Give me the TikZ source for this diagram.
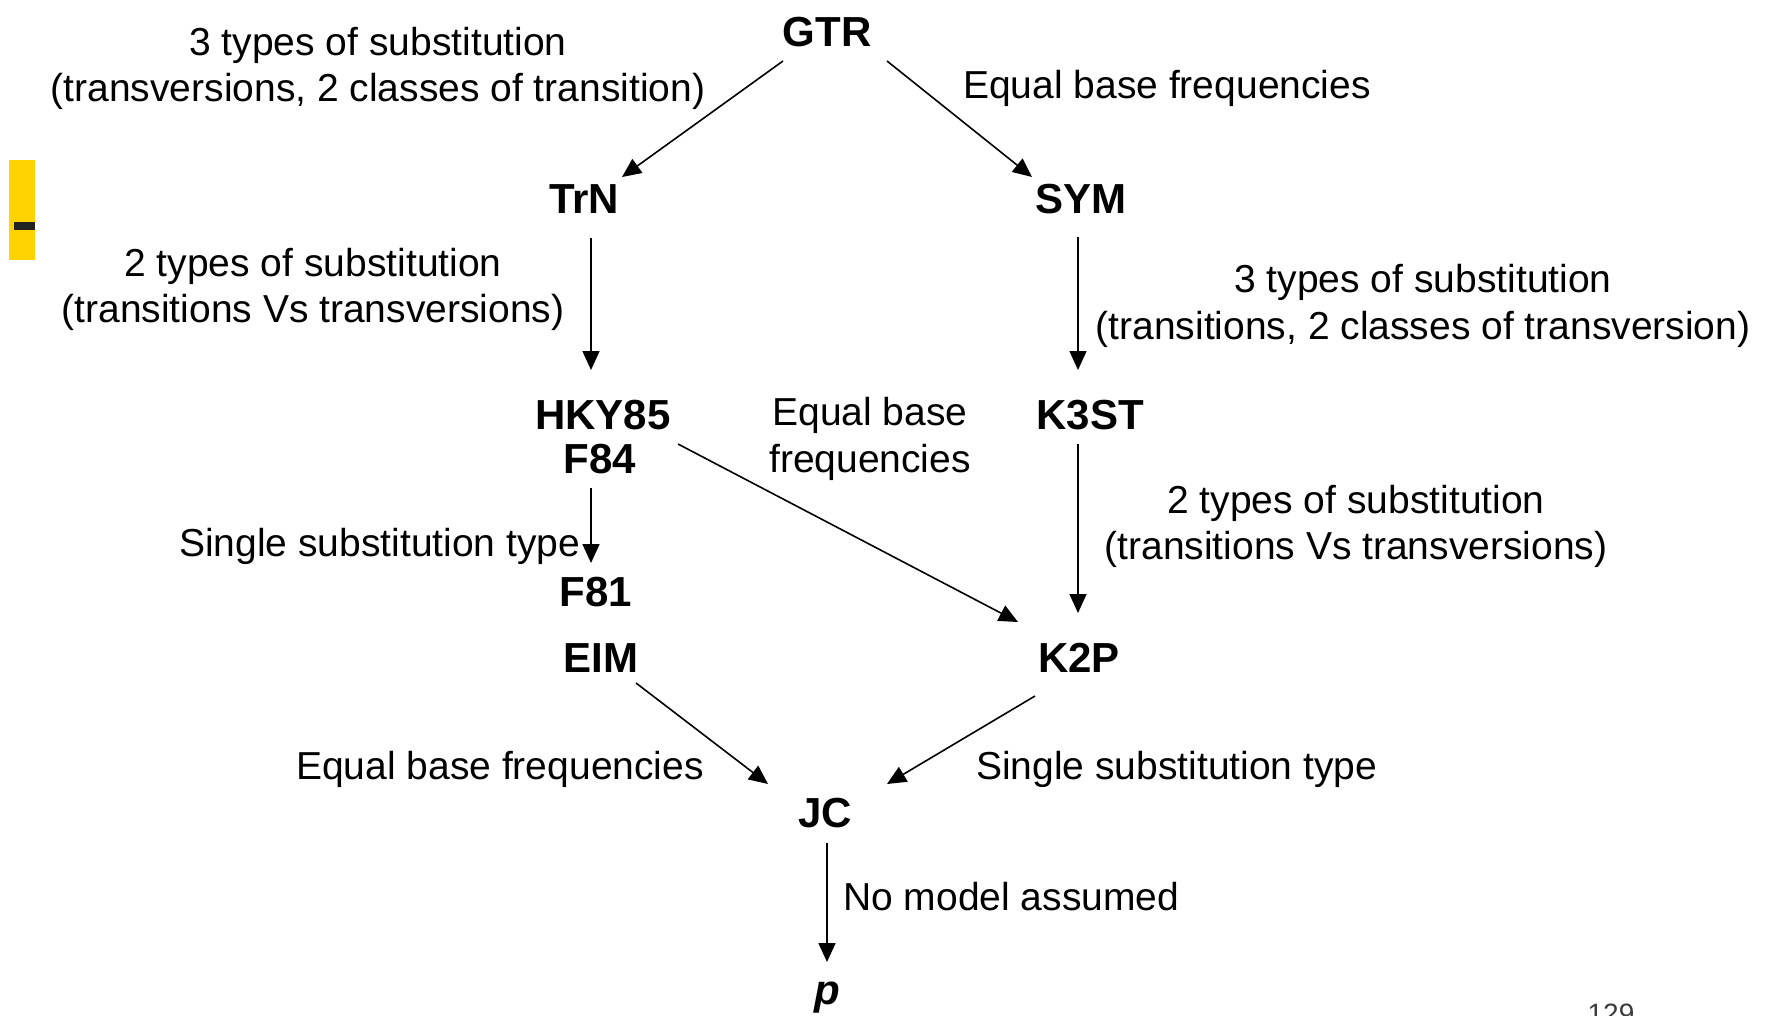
\documentclass[tikz,border=0pt]{standalone}
\usepackage{fontspec}
\setmainfont{Liberation Sans}
\usetikzlibrary{arrows.meta,calc}
\definecolor{barYellow}{RGB}{255,210,0}
\definecolor{barDark}{RGB}{34,34,34}
\definecolor{pageGray}{RGB}{60,60,60}

\begin{document}
\begin{tikzpicture}[x=1pt,y=-1pt,
  model/.style={font=\fontsize{42}{50}\selectfont\bfseries, inner sep=0pt, anchor=base},
  note/.style={font=\fontsize{39}{46}\selectfont, inner sep=0pt, anchor=base},
  noteL/.style={note, anchor=base west},
  arr/.style={line width=1.6pt, -{Triangle[length=19pt,width=17pt]}}]
\clip (0,0) rectangle (1772,1015);
\fill[white] (0,0) rectangle (1772,1015);

% side marker
\fill[barYellow] (9,160) rectangle (35,260);
\fill[barDark] (14,222) rectangle (35,230);

% substitution models
\node[model] (GTR)  at (827,46)   {GTR};
\node[model] (TrN)  at (584,213)  {TrN};
\node[model] (SYM)  at (1081,213) {SYM};
\node[model] (HKY)  at (603,429)  {HKY85};
\node[model] (F84)  at (600,473)  {F84};
\node[model] (K3ST) at (1090,429) {K3ST};
\node[model] (F81)  at (596,606)  {F81};
\node[model] (EIM)  at (601,672)  {EIM};
\node[model] (K2P)  at (1079,672) {K2P};
\node[model] (JC)   at (825,827)  {JC};
\node[model, font=\fontsize{42}{50}\selectfont\bfseries\itshape] (P) at (827,1004) {p};

% nesting arrows
\draw[arr] ($(GTR.base)+(-44,15)$) -- ($(TrN.base)+(38,-36)$);
\draw[arr] ($(GTR.base)+(60,15)$) -- ($(SYM.base)+(-49,-36)$);
\draw[arr] ($(TrN.base)+(7,25)$) -- ($(HKY.base)+(-12,-59)$);
\draw[arr] ($(SYM.base)+(-3,24)$) -- ($(K3ST.base)+(-12,-59)$);
\draw[arr] ($(F84.base)+(-9,15)$) -- ($(F81.base)+(-5,-43)$);
\draw[arr] ($(F84.base)+(78,-29)$) -- ($(K2P.base)+(-61,-50)$);
\draw[arr] ($(K3ST.base)+(-12,15)$) -- ($(K2P.base)+(-1,-59)$);
\draw[arr] ($(EIM.base)+(35,11)$) -- ($(JC.base)+(-57,-43)$);
\draw[arr] ($(K2P.base)+(-44,24)$) -- ($(JC.base)+(62,-43)$);
\draw[arr] ($(JC.base)+(2,16)$) -- ($(P.base)+(0,-42)$);

% constraint labels
\node[note] (l1a) at (378,55)  {3 types of substitution};
\node[note] (l1b) at (378,101) {(transversions, 2 classes of transition)};
\node[noteL] (l2) at (963,98) {Equal base frequencies};
\node[note] (l3a) at (313,276) {2 types of substitution};
\node[note] (l3b) at (313,322) {(transitions Vs transversions)};
\node[note] (l4a) at (1423,292) {3 types of substitution};
\node[note] (l4b) at (1423,339) {(transitions, 2 classes of transversion)};
\node[note] (l5a) at (870,425) {Equal base};
\node[note] (l5b) at (870,472) {frequencies};
\node[note] (l6a) at (1356,513) {2 types of substitution};
\node[note] (l6b) at (1356,559) {(transitions Vs transversions)};
\node[noteL] (l7) at (179,556) {Single substitution type};
\node[noteL] (l8) at (296,779) {Equal base frequencies};
\node[noteL] (l9) at (976,779) {Single substitution type};
\node[noteL] (l10) at (843,910) {No model assumed};

% page number
\node[font=\fontsize{28}{32}\selectfont, text=pageGray, inner sep=0pt, anchor=base] (pg) at (1611,1023) {129};
\end{tikzpicture}
\end{document}
